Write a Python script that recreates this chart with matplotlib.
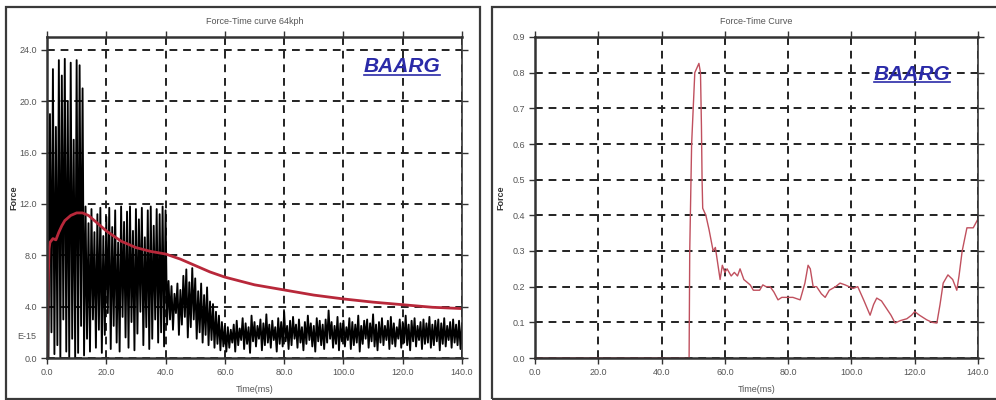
import matplotlib
matplotlib.use("Agg")
import matplotlib.pyplot as plt
from matplotlib.patches import Rectangle
from matplotlib.lines import Line2D
import matplotlib.transforms as mtransforms
import numpy as np

# left panel: raw force signal (peaks at t=k ms, troughs at t=k+0.5 ms)
force_peaks = [
    21.5, 19.0, 22.5, 18.0, 23.2, 22.0, 23.3, 20.0, 23.0, 17.0, 23.2, 22.8, 21.0,
    11.8, 10.5, 11.6, 9.8, 11.2, 11.7, 9.5, 11.0, 11.7, 10.2, 11.5, 9.0, 11.8, 10.6,
    11.4, 11.8, 9.9, 11.6, 10.8, 11.7, 9.4, 11.5, 11.8, 10.3, 11.6, 11.2, 11.8, 11.5,
    6.0, 5.6, 5.0, 5.8, 5.3, 6.4, 6.9, 5.9, 7.0, 6.2, 5.2, 5.8, 4.9, 5.5, 4.4, 4.2,
    3.6, 3.3, 2.8, 2.5, 2.4, 2.2,
    2.6, 2.9, 2.3, 3.1, 2.7, 2.4, 3.3, 2.8, 2.5, 3.0,
    2.7, 3.4, 2.6, 2.9, 2.4, 3.1, 2.8, 3.6, 2.5, 2.9,
    3.2, 2.6, 3.0, 2.4, 2.8, 3.3, 2.7, 2.5, 3.1, 2.9,
    2.6, 3.0, 3.7, 2.8, 2.5, 3.2, 2.7, 2.9, 2.4, 3.1,
    2.8, 2.6, 3.3, 2.5, 2.9, 3.0, 2.7, 3.4, 2.6, 2.8,
    3.1, 2.5, 2.9, 3.2, 2.7, 2.4, 3.0, 2.8, 3.3, 2.6,
    2.9, 3.1, 2.5, 2.8, 3.0, 2.7, 3.2, 2.6, 2.9, 3.0,
    2.7, 3.1, 2.5, 2.8, 3.0, 2.6, 2.9, 2.7,
]
force_troughs = [
    0.0, 2.0, 0.3, 1.0, 0.0, 3.0, 0.5, 0.0, 1.5, 0.0, 0.4, 2.5, 0.2,
    1.5, 0.5, 3.0, 0.8, 2.2, 0.4, 1.8, 3.5, 0.7, 2.5, 1.2, 0.5, 3.2, 1.6,
    0.8, 2.8, 0.6, 1.9, 3.6, 1.0, 2.4, 0.7, 1.5, 3.0, 1.2, 2.0, 0.9, 2.6,
    3.0, 2.2, 3.5, 1.8, 2.6, 3.2, 1.6, 2.4, 3.0, 1.5, 2.0, 1.2, 1.8, 1.0,
    1.4, 0.8, 1.1, 0.6, 0.9, 0.5,
    0.8, 1.2, 0.5, 1.0, 1.4, 0.7, 1.1, 0.4, 1.3, 0.9,
    1.5, 0.6, 1.0, 1.2, 0.8, 1.4, 0.5, 1.1, 0.9, 1.3,
    0.7, 1.0, 1.5, 0.8, 1.2, 0.6, 1.1, 1.4, 0.9, 0.5,
    1.3, 1.0, 0.7, 1.2, 1.5, 0.8, 1.1, 0.6, 1.3, 0.9,
    1.4, 0.7, 1.0, 1.2, 0.5, 1.1, 1.5, 0.8, 1.3, 0.9,
    0.6, 1.2, 1.0, 1.4, 0.7, 1.1, 0.9, 1.5, 0.8, 1.2,
    1.0, 0.6, 1.3, 0.9, 1.4, 0.7, 1.1, 1.2, 0.8, 1.0,
    1.3, 0.6, 1.1, 0.9, 1.4, 0.8, 1.2, 1.0, 0.7,
]

# left panel: filtered force (red)
filt_time = [0, 0.3, 0.7, 1, 2, 3, 4, 5, 6, 8, 10, 12, 14, 16, 18, 20, 25, 30, 35,
             40, 45, 50, 55, 60, 65, 70, 80, 90, 100, 110, 120, 130, 140]
filt_force = [0, 5.0, 8.5, 9.0, 9.3, 9.2, 9.8, 10.3, 10.7, 11.1, 11.3, 11.3, 11.1,
              10.7, 10.3, 9.9, 9.1, 8.6, 8.3, 8.1, 7.7, 7.2, 6.7, 6.3, 6.0, 5.7,
              5.3, 4.9, 4.6, 4.35, 4.15, 3.95, 3.85]

# right panel
curve_time = [0, 48.7, 48.9, 49.5, 50.5, 51.8, 52.3, 52.6, 52.8, 53.0, 54.0, 55.0,
              56.3, 57.0, 58.0, 58.5, 59.2, 60.0, 60.7, 62.0, 63.0, 64.0, 64.8, 66.0,
              68.0, 69.0, 71.0, 72.0, 73.0, 74.3, 75.5, 76.8, 78.0, 80.0, 81.5, 83.8,
              85.3, 86.3, 87.0, 87.9, 89.0, 90.5, 91.7, 93.0, 95.0, 96.4, 98.0, 100.5,
              102.0, 104.0, 105.9, 107.0, 108.0, 109.5, 111.0, 112.5, 113.8, 115.5,
              117.5, 119.0, 120.0, 121.5, 123.8, 125.5, 127.0, 128.0, 129.0, 130.5,
              132.0, 133.3, 134.0, 135.0, 136.5, 138.5, 140.0]
curve_force = [0, 0, 0.3, 0.6, 0.80, 0.826, 0.80, 0.65, 0.5, 0.42, 0.40, 0.36,
               0.30, 0.31, 0.25, 0.22, 0.26, 0.24, 0.25, 0.23, 0.24, 0.23, 0.25, 0.22,
               0.205, 0.19, 0.19, 0.205, 0.20, 0.2, 0.185, 0.163, 0.17, 0.17, 0.17,
               0.163, 0.21, 0.26, 0.25, 0.20, 0.20, 0.18, 0.17, 0.19, 0.20, 0.21,
               0.205, 0.195, 0.20, 0.16, 0.12, 0.15, 0.168, 0.16, 0.14, 0.12, 0.098,
               0.105, 0.11, 0.12, 0.13, 0.12, 0.107, 0.10, 0.098, 0.15, 0.21, 0.233,
               0.22, 0.19, 0.23, 0.30, 0.365, 0.365, 0.39]

x_ticks = [0, 20, 40, 60, 80, 100, 120, 140]
left_yticks = [0, 4, 8, 12, 16, 20, 24]
right_yticks = [0.0, 0.1, 0.2, 0.3, 0.4, 0.5, 0.6, 0.7, 0.8, 0.9]

W, H = 996, 400
fig = plt.figure(figsize=(W / 100, H / 100), dpi=100)
plt.rcParams['font.family'] = ['Liberation Sans', 'DejaVu Sans']

# panel frames
fig.add_artist(Rectangle((6 / W, 1 / H), 474 / W, 392 / H, transform=fig.transFigure,
                         fill=False, ec='#3a3a3a', lw=1.6))
fig.add_artist(Rectangle((492 / W, 1 / H), 520 / W, 392 / H, transform=fig.transFigure,
                         fill=False, ec='#3a3a3a', lw=1.6))

ax1 = fig.add_axes([47 / W, 1 - 358 / H, 415 / W, 321 / H])
ax2 = fig.add_axes([535 / W, 1 - 358 / H, 443 / W, 321 / H])


def style_axes(ax, title, yticks, ylabels, ymax):
    ax.set_xlim(0, 140)
    ax.set_ylim(0, ymax)
    ax.set_xticks(x_ticks)
    ax.set_xticklabels([f"{v:.1f}" for v in x_ticks])
    ax.set_yticks(yticks)
    ax.set_yticklabels(ylabels)
    ax.tick_params(axis='both', which='both', direction='out', length=4, width=1,
                   color='#333333', labelsize=6.5, labelcolor='#555555',
                   top=True, right=True, pad=3)
    ax.grid(True, color='#222222', linestyle=(0, (4, 3)), linewidth=1.4)
    for side, sp in ax.spines.items():
        sp.set_color('#333333')
        sp.set_linewidth(1.8 if side != 'right' else 1.2)
    ax.set_title(title, fontsize=6.5, color='#555555', pad=9)
    ax.set_xlabel("Time(ms)", fontsize=6.5, color='#555555', labelpad=2)
    ax.xaxis.set_label_coords(0.5, -0.085)
    ax.set_ylabel("Force", fontsize=6.5, color='#333333', fontweight='bold')


style_axes(ax1, "Force-Time curve 64kph", left_yticks,
           [f"{v:.1f}" for v in left_yticks], 25)
style_axes(ax2, "Force-Time Curve", right_yticks,
           [f"{v:.1f}" for v in right_yticks], 0.9)
ax1.yaxis.set_label_coords(-0.068, 0.5)
ax2.yaxis.set_label_coords(-0.068, 0.5)

# zig-zag raw signal
sig_t = np.empty(len(force_peaks) + len(force_troughs))
sig_f = np.empty_like(sig_t)
sig_t[0::2] = np.arange(len(force_peaks))
sig_t[1::2] = np.arange(len(force_troughs)) + 0.5
sig_f[0::2] = force_peaks
sig_f[1::2] = force_troughs
ax1.plot(sig_t, sig_f, color='black', lw=1.35, clip_on=True)
ax1.plot(filt_time, filt_force, color='#b8283a', lw=2.0)

ax1.text(-0.025, 1.7, "E-15", transform=mtransforms.blended_transform_factory(
    ax1.transAxes, ax1.transData), ha='right', va='center', fontsize=6.5, color='#555555')

ax2.plot(curve_time, curve_force, color='#c0505e', lw=1.0)

# BAARG watermarks
labels = [
    fig.text(402 / W, 1 - 67 / H, "BAARG", ha='center', va='center', fontsize=15,
             fontweight='bold', fontstyle='italic', color='#2a2aa8'),
    fig.text(912 / W, 1 - 74 / H, "BAARG", ha='center', va='center', fontsize=15,
             fontweight='bold', fontstyle='italic', color='#2a2aa8'),
]
fig.canvas.draw()
renderer = fig.canvas.get_renderer()
for t in labels:
    bb = t.get_window_extent(renderer).transformed(fig.transFigure.inverted())
    fig.add_artist(Line2D([bb.x0, bb.x1], [bb.y0 + 0.004, bb.y0 + 0.004],
                          transform=fig.transFigure, color='#2a2aa8', lw=1.2))

fig.savefig("out.png", dpi=100)
